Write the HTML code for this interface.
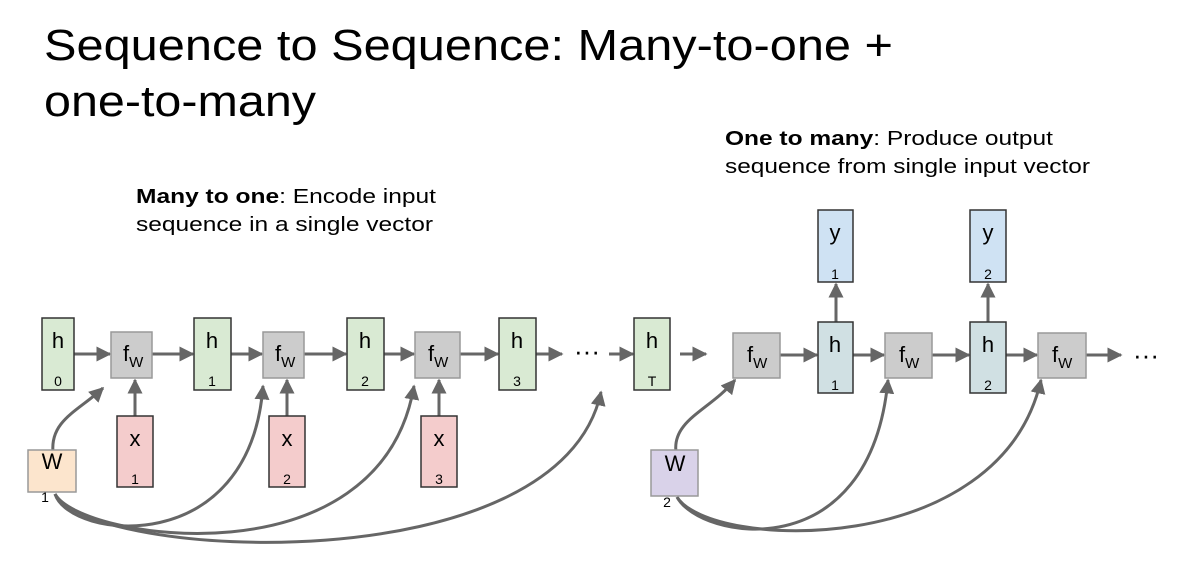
<!DOCTYPE html>
<html><head><meta charset="utf-8"><style>
html,body{margin:0;padding:0;background:#fff;width:1200px;height:562px;overflow:hidden}
text{font-family:"Liberation Sans",Arial,sans-serif}
</style></head><body>
<svg width="1200" height="562" viewBox="0 0 1200 562" xmlns="http://www.w3.org/2000/svg">
<defs>
<marker id="a" viewBox="0 0 10 10" refX="9" refY="5" markerWidth="5" markerHeight="5" orient="auto"><path d="M0,0 L10,5 L0,10 z" fill="#666"/></marker>
</defs>
<text x="44" y="60" font-size="44" textLength="849" lengthAdjust="spacingAndGlyphs">Sequence to Sequence: Many-to-one +</text>
<text x="44" y="116" font-size="44" textLength="272" lengthAdjust="spacingAndGlyphs">one-to-many</text>
<text x="136" y="203" font-size="20" textLength="300" lengthAdjust="spacingAndGlyphs"><tspan font-weight="bold">Many to one</tspan>: Encode input</text>
<text x="136" y="231" font-size="20" textLength="297" lengthAdjust="spacingAndGlyphs">sequence in a single vector</text>
<text x="725" y="145" font-size="20" textLength="328" lengthAdjust="spacingAndGlyphs"><tspan font-weight="bold">One to many</tspan>: Produce output</text>
<text x="725" y="173" font-size="20" textLength="365" lengthAdjust="spacingAndGlyphs">sequence from single input vector</text>

<g stroke="#666" stroke-width="3" fill="none" marker-end="url(#a)">
<line x1="74" y1="354" x2="110" y2="354"/>
<line x1="152" y1="354" x2="193" y2="354"/>
<line x1="231" y1="354" x2="262" y2="354"/>
<line x1="304" y1="354" x2="346" y2="354"/>
<line x1="384" y1="354" x2="414" y2="354"/>
<line x1="460" y1="354" x2="498" y2="354"/>
<line x1="536" y1="354" x2="562" y2="354"/>
<line x1="609" y1="354" x2="633" y2="354"/>
<line x1="680" y1="354" x2="706" y2="354"/>
<line x1="780" y1="355" x2="817" y2="355"/>
<line x1="853" y1="355" x2="884" y2="355"/>
<line x1="932" y1="355" x2="969" y2="355"/>
<line x1="1006" y1="355" x2="1037" y2="355"/>
<line x1="1086" y1="355" x2="1121" y2="355"/>
<line x1="135" y1="416" x2="135" y2="380"/>
<line x1="287" y1="416" x2="287" y2="380"/>
<line x1="439" y1="416" x2="439" y2="380"/>
<line x1="836" y1="322" x2="836" y2="284"/>
<line x1="988" y1="322" x2="988" y2="284"/>
<path d="M53,452 C50,420 80,410 103,388"/>
<path d="M55,494 C70,540 250,560 263,386"/>
<path d="M55,494 C80,540 380,585 414,386"/>
<path d="M55,494 C90,560 560,585 601,392"/>
<path d="M676,452 C672,420 710,410 735,380"/>
<path d="M677,497 C700,540 870,570 888,380"/>
<path d="M677,497 C710,550 1000,560 1041,380"/>
</g>
<text x="574" y="360" font-size="26">···</text>
<text x="1133" y="364" font-size="26">···</text>

<g stroke="#333" stroke-width="1.5">
<rect x="42" y="318" width="32" height="72" fill="#d9ead3"/>
<rect x="194" y="318" width="37" height="72" fill="#d9ead3"/>
<rect x="347" y="318" width="37" height="72" fill="#d9ead3"/>
<rect x="499" y="318" width="37" height="72" fill="#d9ead3"/>
<rect x="634" y="318" width="36" height="72" fill="#d9ead3"/>
<rect x="117" y="416" width="36" height="71" fill="#f4cccc"/>
<rect x="269" y="416" width="36" height="71" fill="#f4cccc"/>
<rect x="421" y="416" width="36" height="71" fill="#f4cccc"/>
<rect x="818" y="322" width="35" height="71" fill="#d0e0e3"/>
<rect x="970" y="322" width="36" height="71" fill="#d0e0e3"/>
<rect x="818" y="210" width="35" height="72" fill="#cfe2f3"/>
<rect x="970" y="210" width="36" height="72" fill="#cfe2f3"/>
</g>
<g stroke="#999" stroke-width="1.5" fill="#cccccc">
<rect x="111" y="332" width="41" height="46"/>
<rect x="263" y="332" width="41" height="46"/>
<rect x="415" y="332" width="45" height="46"/>
<rect x="733" y="333" width="47" height="45"/>
<rect x="885" y="333" width="47" height="45"/>
<rect x="1038" y="333" width="48" height="45"/>
<rect x="28" y="450" width="48" height="42" fill="#fce5cd"/>
<rect x="651" y="450" width="47" height="46" fill="#d9d2e9"/>
</g>
<g font-size="22" text-anchor="middle">
<text x="58" y="348">h</text><text x="58" y="386" font-size="14">0</text>
<text x="212" y="348">h</text><text x="212" y="386" font-size="14">1</text>
<text x="365" y="348">h</text><text x="365" y="386" font-size="14">2</text>
<text x="517" y="348">h</text><text x="517" y="386" font-size="14">3</text>
<text x="652" y="348">h</text><text x="652" y="386" font-size="14">T</text>
<text x="135" y="446">x</text><text x="135" y="484" font-size="14">1</text>
<text x="287" y="446">x</text><text x="287" y="484" font-size="14">2</text>
<text x="439" y="446">x</text><text x="439" y="484" font-size="14">3</text>
<text x="835" y="352">h</text><text x="835" y="390" font-size="14">1</text>
<text x="988" y="352">h</text><text x="988" y="390" font-size="14">2</text>
<text x="835" y="240">y</text><text x="835" y="279" font-size="14">1</text>
<text x="988" y="240">y</text><text x="988" y="279" font-size="14">2</text>
<text x="52" y="469">W</text><text x="45" y="502" font-size="14">1</text>
<text x="675" y="471">W</text><text x="667" y="507" font-size="14">2</text>
</g>
<g font-size="22">
<text x="123" y="361">f<tspan font-size="15" dy="6">W</tspan></text>
<text x="275" y="361">f<tspan font-size="15" dy="6">W</tspan></text>
<text x="428" y="361">f<tspan font-size="15" dy="6">W</tspan></text>
<text x="747" y="362">f<tspan font-size="15" dy="6">W</tspan></text>
<text x="899" y="362">f<tspan font-size="15" dy="6">W</tspan></text>
<text x="1052" y="362">f<tspan font-size="15" dy="6">W</tspan></text>
</g>
</svg>
</body></html>
